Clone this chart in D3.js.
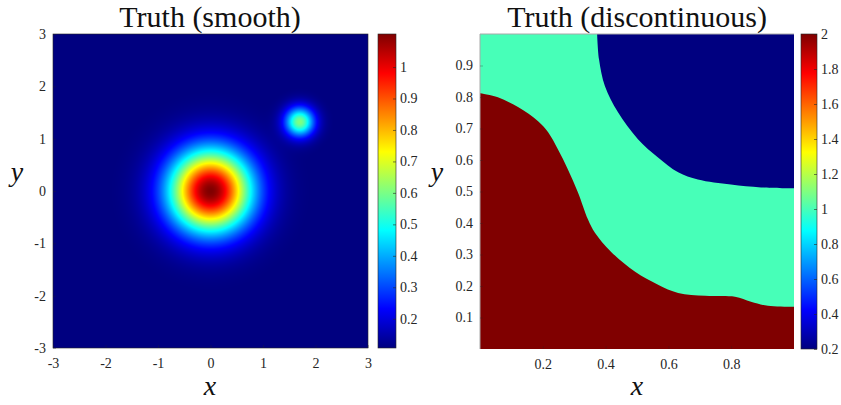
<!DOCTYPE html>
<html>
<head>
<meta charset="utf-8">
<script src="https://cdn.jsdelivr.net/npm/d3@7"></script>
<style>
  body { margin: 0; background: #fff; }
  svg { display: block; }
</style>
</head>
<body>
<svg width="841" height="405"></svg>
<script>
// ---- data
const smoothXTicks = [-3, -2, -1, 0, 1, 2, 3];
const smoothYTicks = [-3, -2, -1, 0, 1, 2, 3];
const smoothCbTicks = [0.2, 0.3, 0.4, 0.5, 0.6, 0.7, 0.8, 0.9, 1];
const smoothCbRange = [0.107, 1.105];
// two gaussian bumps on a flat background
const bumpBase = 0.105;
const bumpCenters = [[0, 0], [1.7, 1.32]];
const bumpHeights = [1.0, 0.5];
const bumpWidths = [0.55, 0.2];

const discXTicks = [0.2, 0.4, 0.6, 0.8];
const discYTicks = [0.1, 0.2, 0.3, 0.4, 0.5, 0.6, 0.7, 0.8, 0.9];
const discCbTicks = [0.2, 0.4, 0.6, 0.8, 1, 1.2, 1.4, 1.6, 1.8, 2];
const discLevels = [2, 1, 0.2];   // lower-left, middle, upper-right
// boundary between middle and upper-right regions
const upperEdge = [
  [0.373, 1.0], [0.379, 0.920], [0.398, 0.834], [0.439, 0.752], [0.503, 0.666],
  [0.567, 0.608], [0.631, 0.561], [0.694, 0.538], [0.799, 0.522], [0.895, 0.513], [1.0, 0.510]
];
// boundary between lower-left and middle regions
const lowerEdge = [
  [0, 0.812], [0.057, 0.799], [0.121, 0.768], [0.185, 0.723], [0.217, 0.688],
  [0.248, 0.634], [0.280, 0.570], [0.312, 0.497], [0.344, 0.411], [0.366, 0.369],
  [0.417, 0.309], [0.494, 0.245], [0.567, 0.204], [0.631, 0.178], [0.717, 0.169],
  [0.812, 0.166], [0.863, 0.150], [0.917, 0.137], [1.0, 0.134]
];

// ---- jet colormap
function jet(t) {
  t = Math.max(0, Math.min(1, t));
  const c = v => Math.round(255 * Math.max(0, Math.min(1, v)));
  const r = c(Math.min(4 * t - 1.5, -4 * t + 4.5));
  const g = c(Math.min(4 * t - 0.5, -4 * t + 3.5));
  const b = c(Math.min(4 * t + 0.5, -4 * t + 2.5));
  return [r, g, b];
}
const jetCss = t => { const [r, g, b] = jet(t); return `rgb(${r},${g},${b})`; };

const svg = d3.select('svg');
const serif = '"Liberation Serif", "Times New Roman", serif';

function styleTicks(g) {
  g.attr('font-family', serif).attr('font-size', 14);
  g.selectAll('.tick text')
    .style('font-family', serif).style('font-size', '14px').attr('fill', '#262626');
}

function addColorbar(id, x, w, y0, y1, domain, ticks) {
  const cb = d3.scaleLinear().domain(domain).range([y1, y0]);
  const grad = svg.append('defs').append('linearGradient')
    .attr('id', id).attr('x1', 0).attr('x2', 0).attr('y1', 1).attr('y2', 0);
  d3.range(0, 65).forEach(i => {
    grad.append('stop').attr('offset', i / 64).attr('stop-color', jetCss(i / 64));
  });
  svg.append('rect')
    .attr('x', x).attr('y', y0).attr('width', w).attr('height', y1 - y0)
    .attr('fill', `url(#${id})`)
    .attr('stroke', '#262626').attr('stroke-width', 0.6);
  const ax = svg.append('g')
    .attr('transform', `translate(${x + w},0)`)
    .call(d3.axisRight(cb).tickValues(ticks).tickSize(-3).tickFormat(d => String(+d.toFixed(1))));
  ax.select('.domain').remove();
  ax.selectAll('.tick line').attr('stroke', '#262626').attr('stroke-width', 0.6);
  ax.selectAll('.tick text').attr('x', 4);
  styleTicks(ax);
}

function addAxes(sx, sy, xt, yt, fmt) {
  const [x0] = sx.range();
  const [y1] = sy.range();
  const gx = svg.append('g').attr('transform', `translate(0,${y1})`)
    .call(d3.axisBottom(sx).tickValues(xt).tickSize(-3).tickPadding(10).tickFormat(fmt));
  const gy = svg.append('g').attr('transform', `translate(${x0},0)`)
    .call(d3.axisLeft(sy).tickValues(yt).tickSize(-3).tickPadding(7).tickFormat(fmt));
  [gx, gy].forEach(g => {
    g.select('.domain').remove();
    g.selectAll('.tick line').attr('stroke', '#262626').attr('stroke-width', 0.5).attr('opacity', 0.6);
    styleTicks(g);
  });
}

// ================= left panel: smooth truth
const L = { x0: 53, x1: 368, y0: 34, y1: 348 };
const sxL = d3.scaleLinear().domain([-3, 3]).range([L.x0, L.x1]);
const syL = d3.scaleLinear().domain([-3, 3]).range([L.y1, L.y0]);

const wL = L.x1 - L.x0, hL = L.y1 - L.y0;
const canvas = document.createElement('canvas');
canvas.width = wL; canvas.height = hL;
const ctx = canvas.getContext('2d');
const img = ctx.createImageData(wL, hL);
for (let j = 0; j < hL; j++) {
  const y = syL.invert(L.y0 + j + 0.5);
  for (let i = 0; i < wL; i++) {
    const x = sxL.invert(L.x0 + i + 0.5);
    let v = bumpBase;
    bumpCenters.forEach((c, k) => {
      const d2 = (x - c[0]) ** 2 + (y - c[1]) ** 2;
      v += bumpHeights[k] * Math.exp(-d2 / (2 * bumpWidths[k] ** 2));
    });
    const [r, g, b] = jet((v - smoothCbRange[0]) / (smoothCbRange[1] - smoothCbRange[0]));
    const p = 4 * (j * wL + i);
    img.data[p] = r; img.data[p + 1] = g; img.data[p + 2] = b; img.data[p + 3] = 255;
  }
}
ctx.putImageData(img, 0, 0);
svg.append('image')
  .attr('x', L.x0).attr('y', L.y0).attr('width', wL).attr('height', hL)
  .attr('preserveAspectRatio', 'none')
  .attr('href', canvas.toDataURL());
svg.append('rect')
  .attr('x', L.x0).attr('y', L.y0).attr('width', wL).attr('height', hL)
  .attr('fill', 'none').attr('stroke', '#262626').attr('stroke-width', 0.6);
addAxes(sxL, syL, smoothXTicks, smoothYTicks, d => String(d));
addColorbar('cbL', 378, 18, L.y0, L.y1, smoothCbRange, smoothCbTicks);

// ================= right panel: discontinuous truth
const R = { x0: 480, x1: 794, y0: 34, y1: 349 };
const sxR = d3.scaleLinear().domain([0, 1]).range([R.x0, R.x1]);
const syR = d3.scaleLinear().domain([0, 1]).range([R.y1, R.y0]);
const discDomain = [0.2, 2];
const discColor = v => jetCss((v - discDomain[0]) / (discDomain[1] - discDomain[0]));

svg.append('clipPath').attr('id', 'clipR').append('rect')
  .attr('x', R.x0).attr('y', R.y0).attr('width', R.x1 - R.x0).attr('height', R.y1 - R.y0);
const gR = svg.append('g').attr('clip-path', 'url(#clipR)');
gR.append('rect')
  .attr('x', R.x0).attr('y', R.y0).attr('width', R.x1 - R.x0).attr('height', R.y1 - R.y0)
  .attr('fill', discColor(discLevels[1]));

const edgeLine = d3.line().x(d => sxR(d[0])).y(d => syR(d[1])).curve(d3.curveCatmullRom);
function region(edge, closing) {
  return edgeLine(edge) + closing.map(p => `L${sxR(p[0])},${syR(p[1])}`).join('') + 'Z';
}
gR.append('path')
  .attr('d', region(lowerEdge, [[1.02, 0.134], [1.02, -0.02], [-0.02, -0.02], [-0.02, 0.812]]))
  .attr('fill', discColor(discLevels[0]));
gR.append('path')
  .attr('d', region(upperEdge, [[1.02, 0.51], [1.02, 1.02], [0.373, 1.02]]))
  .attr('fill', discColor(discLevels[2]));
svg.append('path')
  .attr('d', `M${R.x0},${R.y1}V${R.y0}H${R.x1}`)
  .attr('fill', 'none').attr('stroke', '#a8a8a8').attr('stroke-width', 1);
addAxes(sxR, syR, discXTicks, discYTicks, d3.format('.1f'));
addColorbar('cbR', 801, 16, R.y0, R.y1, discDomain, discCbTicks);

// ---- titles and axis labels
const titles = [['Truth (smooth)', 210], ['Truth (discontinuous)', 637]];
titles.forEach(([t, x]) => {
  svg.append('text').attr('x', x).attr('y', 27).attr('text-anchor', 'middle')
    .style('font-family', serif).style('font-size', '30px').attr('fill', '#111').text(t);
});
[[210, 395], [637, 395]].forEach(([x, y]) => {
  svg.append('text').attr('x', x).attr('y', y).attr('text-anchor', 'middle')
    .style('font-family', serif).style('font-style', 'italic').style('font-size', '28px')
    .attr('fill', '#111').text('x');
});
[[17, 181], [437, 181]].forEach(([x, y]) => {
  svg.append('text').attr('x', x).attr('y', y).attr('text-anchor', 'middle')
    .style('font-family', serif).style('font-style', 'italic').style('font-size', '28px')
    .attr('fill', '#111').text('y');
});
</script>
</body>
</html>
